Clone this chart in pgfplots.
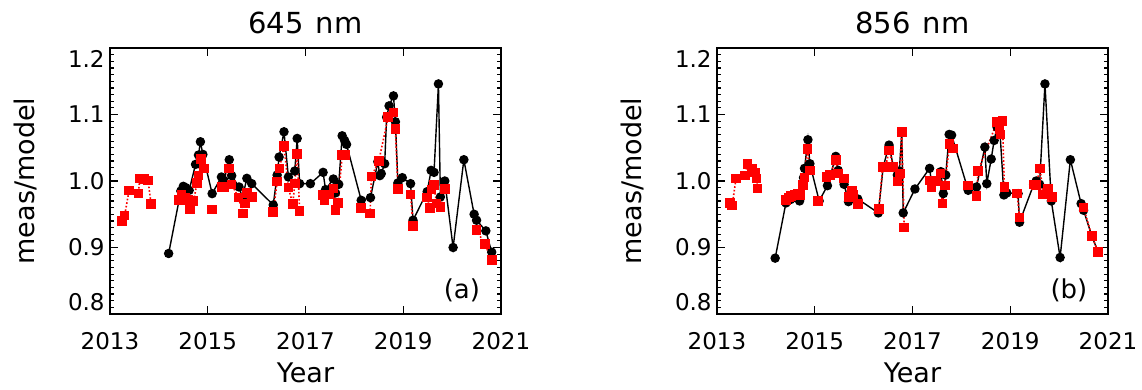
\documentclass[border=0pt]{standalone}
\usepackage{fontspec}
\setmainfont{DejaVu Sans}
\usepackage{pgfplots}
\usepackage{pgfplotstable}
\pgfplotsset{compat=1.18}

\pgfplotstableread{
x y
2014.20 0.891
2014.45 0.985
2014.50 0.992
2014.55 0.990
2014.62 0.986
2014.75 1.025
2014.81 1.039
2014.85 1.059
2014.90 1.040
2015.09 0.981
2015.28 1.006
2015.33 1.001
2015.44 1.032
2015.49 1.008
2015.64 0.991
2015.71 0.975
2015.80 1.004
2015.90 0.996
2016.34 0.964
2016.42 1.009
2016.46 1.036
2016.56 1.074
2016.65 1.006
2016.78 1.015
2016.83 1.064
2016.88 0.996
2017.10 0.996
2017.36 1.013
2017.41 0.987
2017.57 1.003
2017.61 0.982
2017.68 0.995
2017.75 1.068
2017.80 1.061
2017.84 1.055
2018.14 0.971
2018.33 0.975
2018.48 1.029
2018.52 1.008
2018.55 1.011
2018.62 1.026
2018.66 1.096
2018.71 1.113
2018.80 1.128
2018.84 1.089
2018.89 0.997
2018.98 1.005
2019.15 0.996
2019.20 0.941
2019.49 0.984
2019.57 1.016
2019.63 1.013
2019.72 1.146
2019.76 0.976
2019.85 1.000
2020.02 0.900
2020.24 1.032
2020.45 0.950
2020.50 0.941
2020.69 0.925
2020.81 0.893
}\blackA

\pgfplotstableread{
x y
2013.24 0.940
2013.30 0.948
2013.39 0.986
2013.58 0.981
2013.61 1.004
2013.70 1.003
2013.78 1.001
2013.84 0.965
nan nan
2014.41 0.971
2014.46 0.979
2014.53 0.975
2014.60 0.971
2014.64 0.958
2014.71 0.970
2014.78 0.997
2014.81 1.008
2014.86 1.033
2014.92 1.019
nan nan
2015.09 0.957
nan nan
2015.28 0.991
2015.33 0.991
2015.44 1.019
2015.49 0.995
2015.63 0.975
2015.72 0.951
2015.76 0.966
2015.80 0.982
2015.90 0.976
nan nan
2016.34 0.953
2016.42 0.999
2016.47 1.019
2016.56 1.053
2016.65 0.990
2016.74 0.965
2016.78 0.996
2016.83 1.041
2016.88 0.955
nan nan
2017.36 0.979
2017.39 0.971
2017.48 0.980
2017.57 0.989
2017.61 0.956
2017.67 0.967
2017.75 1.039
2017.82 1.039
nan nan
2018.14 0.959
nan nan
2018.32 0.951
2018.35 1.007
2018.50 1.030
2018.69 1.096
2018.80 1.103
2018.84 1.078
2018.89 0.988
nan nan
2019.15 0.980
2019.20 0.932
nan nan
2019.49 0.975
2019.55 0.959
2019.58 0.987
2019.63 0.994
2019.68 0.966
2019.76 0.961
2019.85 0.988
nan nan
2020.50 0.926
2020.67 0.905
2020.81 0.881
}\redA

\pgfplotstableread{
x y
2014.19 0.884
2014.41 0.967
2014.50 0.972
2014.60 0.975
2014.69 0.970
2014.77 1.005
2014.79 1.019
2014.86 1.062
2014.90 1.026
2015.09 0.970
2015.26 0.993
2015.43 1.037
2015.48 1.016
2015.60 0.995
2015.69 0.969
2015.88 0.973
2016.30 0.952
2016.40 1.021
2016.52 1.054
2016.61 1.021
2016.69 1.009
2016.73 1.015
2016.78 1.073
2016.81 0.952
2017.05 0.988
2017.35 1.019
2017.39 0.997
2017.58 1.014
2017.63 0.981
2017.68 1.009
2017.75 1.070
2017.80 1.069
2018.14 0.986
2018.31 0.991
2018.48 1.051
2018.52 0.996
2018.61 1.033
2018.67 1.061
2018.73 1.081
2018.78 1.085
2018.87 0.979
2018.93 0.982
2019.16 0.981
2019.19 0.938
2019.48 0.995
2019.53 1.000
2019.60 0.995
2019.71 1.146
2019.84 0.970
2020.02 0.885
2020.23 1.032
2020.45 0.966
2020.50 0.956
2020.67 0.917
2020.80 0.893
}\blackB

\pgfplotstableread{
x y
2013.26 0.967
2013.31 0.963
2013.39 1.004
2013.57 1.008
2013.62 1.026
2013.72 1.019
2013.78 1.013
2013.81 1.004
2013.83 0.989
nan nan
2014.41 0.971
2014.47 0.975
2014.52 0.977
2014.59 0.980
2014.66 0.981
2014.70 0.979
2014.76 0.994
2014.79 1.005
2014.85 1.048
2014.90 1.016
nan nan
2015.07 0.970
nan nan
2015.24 1.006
2015.31 1.009
2015.43 1.032
2015.48 1.011
2015.60 1.004
2015.70 0.976
2015.76 0.985
2015.78 0.980
2015.88 0.965
nan nan
2016.31 0.958
2016.39 1.021
2016.45 1.021
2016.52 1.046
2016.61 1.021
2016.69 0.999
2016.74 1.011
2016.78 1.074
2016.83 0.930
nan nan
2017.35 1.001
2017.39 0.991
2017.48 1.000
2017.57 1.011
2017.61 0.966
2017.66 0.993
2017.76 1.056
2017.83 1.049
nan nan
2018.14 0.993
nan nan
2018.31 0.977
2018.34 1.015
2018.73 1.089
2018.78 1.078
2018.80 1.070
2018.84 1.090
2018.88 0.991
nan nan
2019.14 0.981
2019.19 0.945
nan nan
2019.48 0.995
2019.53 0.994
2019.61 1.019
2019.67 0.980
2019.77 0.988
2019.85 0.976
nan nan
2020.50 0.960
2020.67 0.917
2020.80 0.893
}\redB

\pgfplotsset{
  myax/.style={
    scale only axis, width=195.5bp, height=133bp,
    xmin=2013, xmax=2021, ymin=0.8, ymax=1.2,
    clip=false,
    unbounded coords=jump,
    axis line style={line width=0.9bp},
    every tick/.style={black, line width=0.6bp},
    major tick length=4bp, minor tick length=2bp,
    xtick={2013,2015,2017,2019,2021},
    xticklabels={2013,2015,2017,2019,2021},
    ytick={0.8,0.9,1.0,1.1,1.2},
    yticklabels={{\raisebox{6bp}[\height][\depth]{0.8}},0.9,1.0,1.1,{\raisebox{-5.5bp}[\height][\depth]{1.2}}},
    minor y tick num=9,
    tick label style={font=\fontsize{11.5bp}{13bp}\selectfont},
    xticklabel style={anchor=north, inner ysep=0pt, yshift=-9bp},
    yticklabel style={anchor=east, inner xsep=0pt, xshift=-2.5bp},
  },
  blk/.style={black, line width=0.7bp, mark=*, mark size=2bp, mark options={solid, fill=black}},
  rd/.style={red, densely dotted, line width=0.8bp, mark=square*, mark size=2bp, mark options={solid, fill=red, draw=red}},
}

\begin{document}
\begin{tikzpicture}
\useasboundingbox (0,0) rectangle (571bp,195bp);
\begin{axis}[myax, at={(55bp,38bp)}, anchor=south west]
  \addplot[blk] table[x=x, y=y] {\blackA};
  \addplot[rd] table[x=x, y=y] {\redA};
  \node[font=\fontsize{14.5bp}{17bp}\selectfont] at ([yshift=12.5bp]rel axis cs:0.5,1) {645\hspace{6bp}nm};
  \node[font=\fontsize{13.5bp}{15bp}\selectfont] at ([yshift=-29.5bp]rel axis cs:0.5,0) {Year};
  \node[rotate=90, font=\fontsize{13.5bp}{15bp}\selectfont] at ([xshift=-42.5bp]rel axis cs:0,0.5) {meas/model};
  \node[font=\fontsize{13bp}{15bp}\selectfont] at (axis cs:2020.2,0.835) {(a)};
\end{axis}
\begin{axis}[myax, at={(358.5bp,38bp)}, anchor=south west]
  \addplot[blk] table[x=x, y=y] {\blackB};
  \addplot[rd] table[x=x, y=y] {\redB};
  \node[font=\fontsize{14.5bp}{17bp}\selectfont] at ([yshift=12.5bp]rel axis cs:0.5,1) {856\hspace{6bp}nm};
  \node[font=\fontsize{13.5bp}{15bp}\selectfont] at ([yshift=-29.5bp]rel axis cs:0.5,0) {Year};
  \node[rotate=90, font=\fontsize{13.5bp}{15bp}\selectfont] at ([xshift=-42.5bp]rel axis cs:0,0.5) {meas/model};
  \node[font=\fontsize{13bp}{15bp}\selectfont] at (axis cs:2020.2,0.835) {(b)};
\end{axis}
\end{tikzpicture}
\end{document}
